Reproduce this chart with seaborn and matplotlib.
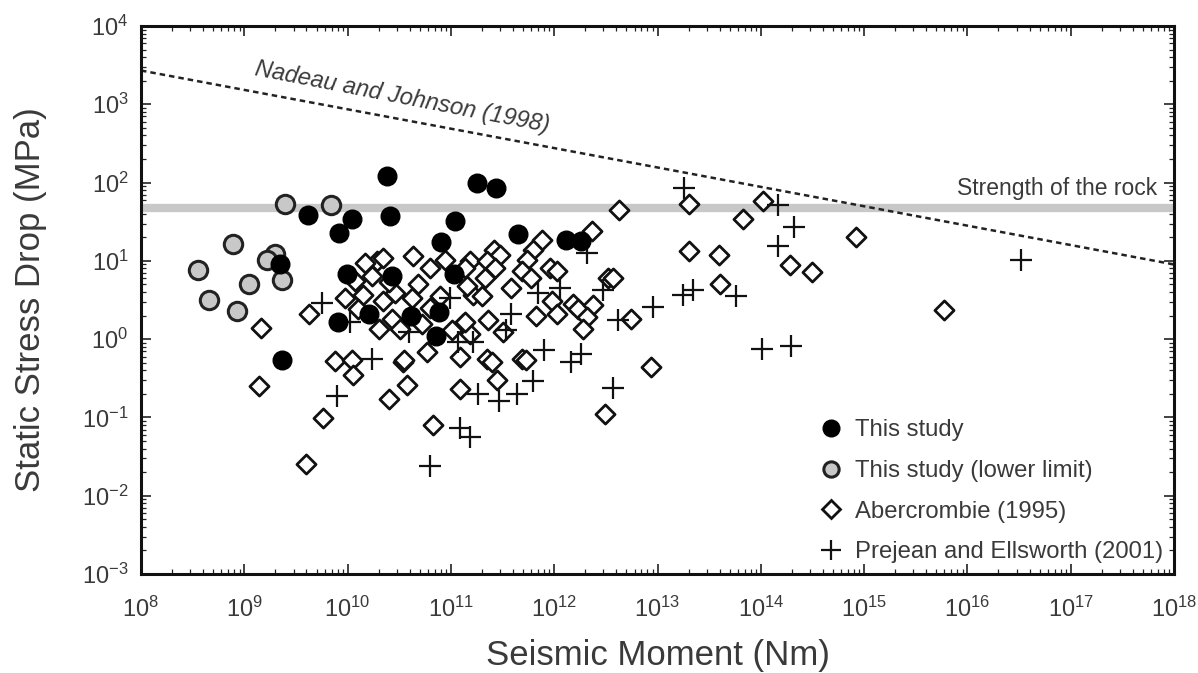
import matplotlib
matplotlib.use("Agg")
import matplotlib.pyplot as plt
import seaborn as sns
import pandas as pd
from matplotlib.ticker import LogLocator, NullFormatter
from matplotlib.lines import Line2D

# ---------------- data ----------------
this_moment = [2.4e10, 4.1e9, 1.1e10, 8.3e9, 2.6e10, 2.2e9, 9.9e9, 8.1e9, 2.3e9,
               1.8e11, 2.75e11, 1.1e11, 8.1e10, 4.5e11, 1.3e12, 1.8e12, 2.7e10,
               1.08e11, 4.1e10, 7.7e10, 7.1e10, 1.6e10]
this_stress = [120, 39, 34, 22.6, 37, 9.2, 6.8, 1.64, 0.54,
               100, 84, 32, 17.4, 22, 18.5, 17.9, 6.5,
               6.7, 2.0, 2.2, 1.09, 2.07]

lower_moment = [2.5e9, 6.9e9, 7.8e8, 2.0e9, 1.66e9, 3.6e8, 1.1e9, 2.3e9, 4.6e8, 8.5e8]
lower_stress = [53, 51, 16.4, 12.3, 10.3, 7.7, 5.1, 5.7, 3.2, 2.26]

abe_moment = [1.46e9, 1.39e9, 5.8e9, 4.0e9, 4.2e9, 7.6e9, 1.1e10, 1.13e10, 2.5e10, 3.8e10,
              3.4e10, 1.94e10, 4.3e10, 6.3e10, 4.8e10, 1.73e10, 1.42e10, 2.2e10, 2.9e10, 4.2e10,
              2.0e10, 5.9e10, 3.5e10, 1.54e11, 1.65e11, 1.32e11, 1.54e11, 1.03e11, 1.23e11, 5.3e10,
              2.3e12, 7.7e11, 6.3e11, 5.5e11, 4.9e11, 2.6e11, 3.0e11, 2.25e11, 2.7e11, 2.15e11,
              2.0e11, 1.38e11, 1.44e11, 9.2e11, 1.07e12, 9.6e11, 1.07e12, 1.53e12, 1.7e12, 2.4e12,
              2.1e12, 1.9e12, 3.35e12, 2.3e11, 3.2e11, 2.25e11, 4.9e11, 1.38e11, 2.0e13, 4.2e12,
              1.06e14, 6.8e13, 2.0e13, 3.9e13, 1.9e14, 3.1e14, 4.0e13, 3.7e12, 5.5e12, 8.6e12,
              3.1e12, 8.3e14, 6.0e15, 1.23e11, 2.5e11, 2.8e11, 5.3e11, 6.7e10, 2.2e10, 1.19e10,
              2.5e10, 9.5e9, 1.27e10, 2.7e10, 3.2e10, 7.9e10, 8.8e10, 3.8e11, 5.9e11, 6.6e11,
              6.3e10, 1.48e10]
abe_stress = [1.38, 0.254, 0.097, 0.0254, 2.07, 0.53, 0.54, 0.35, 0.174, 0.26,
              0.51, 10, 11.6, 8.1, 5.0, 6.5, 3.7, 3.1, 3.9, 3.4,
              1.34, 0.68, 0.54, 10, 3.7, 1.55, 1.16, 1.3, 0.59, 1.55,
              24, 18.5, 13.8, 10.3, 7.5, 13.8, 11.9, 10, 8.1, 6.1,
              3.6, 8.1, 4.8, 8.1, 7.5, 3.1, 2.07, 2.8, 2.4, 2.7,
              1.9, 1.34, 6.1, 1.74, 1.23, 0.56, 0.56, 1.64, 53, 45,
              59, 34, 13.4, 11.9, 8.9, 7.3, 5.0, 6.1, 1.79, 0.44,
              0.112, 20, 2.33, 0.23, 0.51, 0.30, 0.54, 0.081, 10.9, 5.6,
              5.3, 3.4, 2.4, 1.79, 1.34, 3.6, 10.3, 4.5, 6.1, 2.0,
              2.5, 9.4]

pe_moment = [5.7e9, 1.73e10, 7.9e9, 3.9e10, 6.9e11, 1.15e12, 3.8e11, 3.4e11, 3.0e12, 7.9e11,
             1.8e12, 1.44e12, 2.1e12, 1.65e11, 1.8e13, 1.46e14, 2.1e14, 1.46e14, 1.75e13, 2.2e13,
             5.8e13, 9.1e12, 4.1e12, 3.7e12, 1.02e14, 1.95e14, 3.3e16, 1.85e11, 2.9e11, 4.4e11,
             6.2e11, 1.23e11, 1.54e11, 6.3e10, 1.06e10, 1.18e11, 9.9e10]
pe_stress = [2.9, 0.56, 0.19, 1.23, 3.9, 4.5, 2.07, 1.3, 4.3, 0.73,
             0.65, 0.51, 12.6, 0.92, 86, 51, 27, 15.5, 3.7, 4.3,
             3.6, 2.6, 1.74, 0.24, 0.75, 0.81, 10.3, 0.20, 0.16, 0.20,
             0.29, 0.073, 0.057, 0.024, 1.64, 0.92, 3.4]

nadeau_moment = [1e8, 1e18]
nadeau_stress = [2700, 9]
rock_strength = 47

labels = ["This study", "This study (lower limit)", "Abercrombie (1995)",
          "Prejean and Ellsworth (2001)"]

# ---------------- style ----------------
sns.set_theme(style="ticks")
plt.rcParams['font.family'] = ['Liberation Sans', 'DejaVu Sans']
plt.rcParams['mathtext.fontset'] = 'custom'
plt.rcParams['mathtext.rm'] = 'Liberation Sans'
plt.rcParams['mathtext.it'] = 'Liberation Sans:italic'
TXT = '#3a3a3a'

fig = plt.figure(figsize=(11.98, 6.73), dpi=100)
ax = fig.add_axes([141/1198, 1 - 574/673, (1174-141)/1198, (574-26)/673])

ax.axhline(rock_strength, color='#c8c8c8', lw=6, zorder=1)
ax.plot(nadeau_moment, nadeau_stress, ls=(0, (2.2, 1.6)), color='#222222', lw=1.8, zorder=2)

df_abe = pd.DataFrame({'m': abe_moment, 's': abe_stress})
df_pe = pd.DataFrame({'m': pe_moment, 's': pe_stress})
df_low = pd.DataFrame({'m': lower_moment, 's': lower_stress})
df_this = pd.DataFrame({'m': this_moment, 's': this_stress})

sns.scatterplot(data=df_abe, x='m', y='s', ax=ax, marker='D', s=95, color='white',
                edgecolor='#111111', linewidth=2.0, zorder=3, legend=False)
sns.scatterplot(data=df_pe, x='m', y='s', ax=ax, marker='+', s=230, color='#111111',
                linewidth=1.6, zorder=4, legend=False)
sns.scatterplot(data=df_low, x='m', y='s', ax=ax, marker='o', s=175, color='#c8c8c8',
                edgecolor='#222222', linewidth=2.2, zorder=5, legend=False)
sns.scatterplot(data=df_this, x='m', y='s', ax=ax, marker='o', s=180, color='black',
                edgecolor='black', linewidth=1, zorder=6, legend=False)

ax.set_xscale('log')
ax.set_yscale('log')
ax.set_xlim(1e8, 1e18)
ax.set_ylim(1e-3, 1e4)
ax.xaxis.set_major_locator(LogLocator(base=10, numticks=20))
ax.yaxis.set_major_locator(LogLocator(base=10, numticks=20))
ax.xaxis.set_minor_locator(LogLocator(base=10, subs=range(2, 10), numticks=200))
ax.yaxis.set_minor_locator(LogLocator(base=10, subs=range(2, 10), numticks=200))
ax.xaxis.set_minor_formatter(NullFormatter())
ax.yaxis.set_minor_formatter(NullFormatter())
ax.tick_params(which='both', direction='in', top=True, right=True, colors='#222222',
               labelcolor=TXT, labelsize=17, width=1.2)
ax.tick_params(which='major', length=7)
ax.tick_params(axis='x', which='major', pad=16)
ax.tick_params(axis='y', which='major', pad=9)
ax.tick_params(which='minor', length=3.5, width=0.9)
for sp in ax.spines.values():
    sp.set_linewidth(2.2)
    sp.set_color('#111111')

ax.set_xlabel('Seismic Moment (Nm)', fontsize=25, color=TXT)
ax.set_ylabel('Static Stress Drop (MPa)', fontsize=25, color=TXT)
ax.xaxis.label.set_va('center')
ax.yaxis.label.set_va('center')
ax.xaxis.set_label_coords(0.5, (574 - 656) / 548)
ax.yaxis.set_label_coords((31 - 141) / 1033, 0.5)

ax.text(6.9e17, 69, 'Strength of the rock', fontsize=16.5, color=TXT, ha='right', va='baseline')
ax.text(3.4e10, 1230, 'Nadeau and Johnson (1998)', fontsize=17, color=TXT, style='italic',
        rotation=-11, ha='center', va='center', rotation_mode='anchor')

handles = [
    Line2D([], [], ls='none', marker='o', ms=12, mfc='black', mec='black'),
    Line2D([], [], ls='none', marker='o', ms=11, mfc='#c8c8c8', mec='#222222', mew=2.2),
    Line2D([], [], ls='none', marker='D', ms=9, mfc='white', mec='#111111', mew=2.0),
    Line2D([], [], ls='none', marker='+', ms=15, mec='#111111', mew=1.6),
]
leg = ax.legend(handles, labels, loc='lower right', frameon=False, fontsize=17.2,
                handletextpad=0.4, labelspacing=0.78, handlelength=1.2,
                bbox_to_anchor=(1.0, 0.0), borderaxespad=0.05)
for t in leg.get_texts():
    t.set_color(TXT)

fig.savefig('out.png', dpi=100)
